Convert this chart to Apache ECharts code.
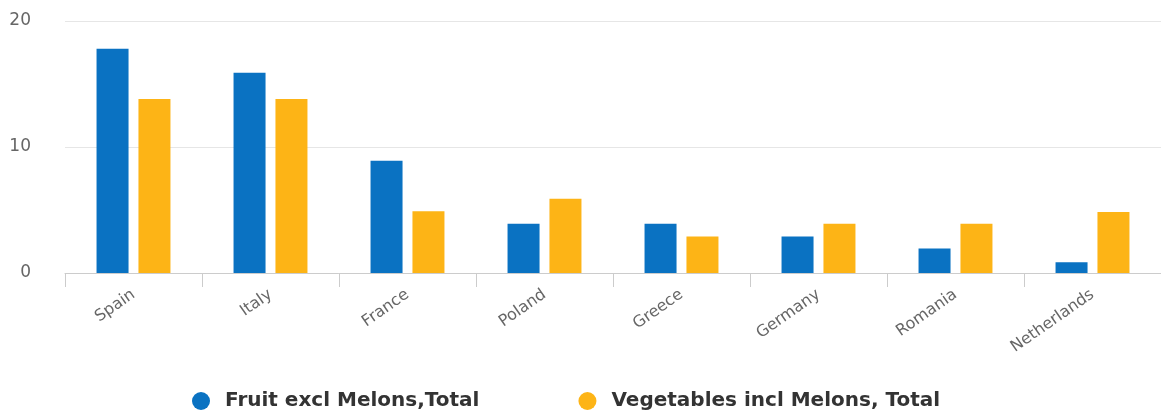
<!DOCTYPE html>
<html>
<head>
<meta charset="utf-8">
<script src="https://cdn.jsdelivr.net/npm/echarts@6/dist/echarts.min.js"></script>
<style>html,body{margin:0;padding:0;background:#fff;}#c{width:1161px;height:416px;}</style>
</head>
<body>
<div id="c"></div>
<script>
const categories = ['Spain', 'Italy', 'France', 'Poland', 'Greece', 'Germany', 'Romania', 'Netherlands'];
const fruit = [17.8, 15.9, 8.9, 3.9, 3.9, 2.9, 1.95, 0.85];
const vegetables = [13.8, 13.8, 4.9, 5.9, 2.9, 3.9, 3.9, 4.85];
const seriesNames = ['Fruit excl Melons,Total', 'Vegetables incl Melons, Total'];
const yTicks = { min: 0, max: 20, interval: 10 };

const chart = echarts.init(document.getElementById('c'), null, { renderer: 'canvas' });
chart.setOption({
  animation: false,
  backgroundColor: '#ffffff',
  grid: { left: 65, right: -6, top: 21, bottom: 143, containLabel: false },
  legend: {
    bottom: 0,
    left: 187,
    itemWidth: 18,
    itemHeight: 18,
    itemGap: 99,
    icon: 'circle',
    textStyle: { fontFamily: 'DejaVu Sans', fontWeight: 'bold', fontSize: 20, color: '#333333', padding: [0, 0, 0, 10] },
    data: seriesNames
  },
  xAxis: {
    type: 'category',
    data: categories,
    axisLine: { lineStyle: { color: '#cccccc', width: 1 } },
    axisTick: { show: true, length: 14, lineStyle: { color: '#cccccc' } },
    axisLabel: { rotate: 35, color: '#666666', fontFamily: 'DejaVu Sans', fontSize: 16, margin: 20 }
  },
  yAxis: {
    type: 'value',
    min: yTicks.min, max: yTicks.max, interval: yTicks.interval,
    axisLine: { show: false },
    axisTick: { show: false },
    splitLine: { lineStyle: { color: '#e6e6e6' } },
    axisLabel: { color: '#666666', fontFamily: 'DejaVu Sans', fontSize: 17, margin: 34 }
  },
  series: [
    { name: seriesNames[0], type: 'bar', data: fruit, barWidth: 32, barGap: '31%', itemStyle: { color: '#0a72c2' } },
    { name: seriesNames[1], type: 'bar', data: vegetables, barWidth: 32, barGap: '31%', itemStyle: { color: '#fdb416' } }
  ]
});
</script>
</body>
</html>
